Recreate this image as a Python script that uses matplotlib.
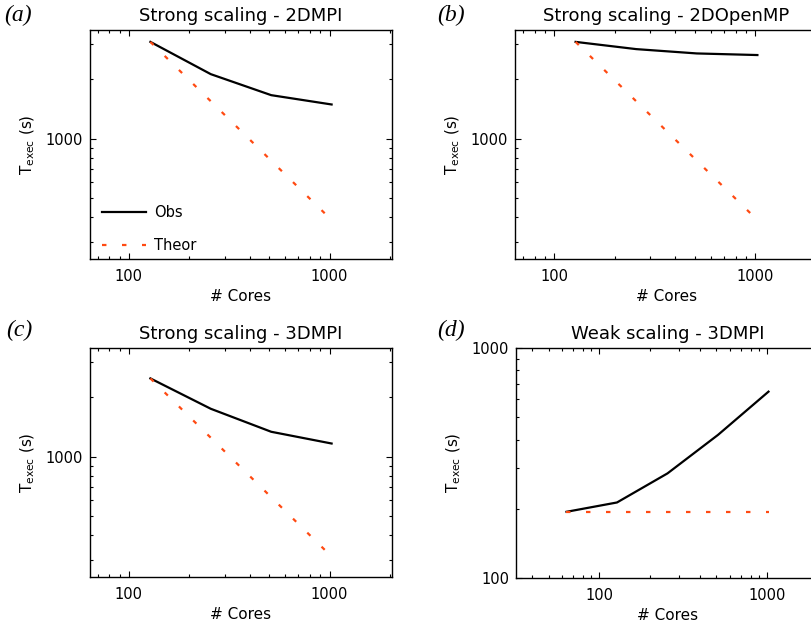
import matplotlib
matplotlib.use('Agg')
import matplotlib.pyplot as plt
import matplotlib.ticker as ticker

# strong scaling runs
cores_strong = [128, 256, 512, 1024]
obs_2dmpi = [3090, 2120, 1659, 1488]
theor_2dmpi = [3090, 1545, 772, 386]
obs_2domp = [3090, 2840, 2700, 2650]
theor_2domp = [3090, 1545, 772, 386]
obs_3dmpi = [2489, 1746, 1335, 1164]
theor_3dmpi = [2489, 1245, 622, 311]

# weak scaling run
cores_weak = [64, 128, 256, 512, 1024]
obs_weak = [194, 213, 285, 419, 646]
theor_weak = [194, 194, 194, 194, 194]

titles = ['Strong scaling - 2DMPI', 'Strong scaling - 2DOpenMP',
          'Strong scaling - 3DMPI', 'Weak scaling - 3DMPI']
letters = ['(a)', '(b)', '(c)', '(d)']

RED = '#ff4a12'
W, H = 812, 627


def px_axes(left, top, width, height):
    return [left / W, 1 - (top + height) / H, width / W, height / H]


def style_axes(ax, xlim, ylim):
    ax.set_xscale('log')
    ax.set_yscale('log')
    ax.set_xlim(*xlim)
    ax.set_ylim(*ylim)
    fmt = ticker.FuncFormatter(lambda v, p: f'{v:g}')
    ax.xaxis.set_major_formatter(fmt)
    ax.yaxis.set_major_formatter(fmt)
    ax.xaxis.set_minor_formatter(ticker.NullFormatter())
    ax.yaxis.set_minor_formatter(ticker.NullFormatter())
    ax.tick_params(which='both', direction='in', top=True, right=True,
                   labelsize=10.5, width=0.8, color='black')
    ax.tick_params(which='major', length=4.5)
    ax.tick_params(axis='x', which='major', pad=7)
    ax.tick_params(axis='y', which='major', pad=5)
    ax.tick_params(which='minor', length=2.3)
    for s in ax.spines.values():
        s.set_linewidth(1.0)
    ax.set_xlabel('# Cores', fontsize=11, labelpad=4)
    ax.set_ylabel(r'T$_{\mathregular{exec}}$ (s)', fontsize=11, labelpad=6)


fig = plt.figure(figsize=(W / 100, H / 100), dpi=100)

boxes = [px_axes(90, 30, 302, 229), px_axes(515, 30, 303, 229),
         px_axes(90, 348, 302, 229), px_axes(516, 348, 303, 230)]
axs = [fig.add_axes(b) for b in boxes]

strong = [(obs_2dmpi, theor_2dmpi), (obs_2domp, theor_2domp), (obs_3dmpi, theor_3dmpi)]
dash = (0, (2.0, 7.0))

for ax, (obs, theor) in zip(axs[:3], strong):
    ax.plot(cores_strong, obs, color='black', lw=1.6, label='Obs')
    ax.plot(cores_strong, theor, color=RED, lw=1.6, ls=dash, label='Theor')
    style_axes(ax, (64, 2048), (245, 3550))

ax = axs[3]
ax.plot(cores_weak, obs_weak, color='black', lw=1.6)
ax.plot(cores_weak, theor_weak, color=RED, lw=1.6, ls=dash)
style_axes(ax, (32, 2048), (100, 1000))

axs[0].legend(loc='lower left', frameon=False, fontsize=10.5, handlelength=3.0,
              handletextpad=0.6, labelspacing=1.25, borderpad=0,
              borderaxespad=0, bbox_to_anchor=(12 / 302, 6 / 229))

for ax, t, l in zip(axs, titles, letters):
    ax.set_title(t, fontsize=13, pad=6.5)

letter_pos = [(4, 5), (437, 5), (6, 320), (437, 320)]
for (x, y), l in zip(letter_pos, letters):
    fig.text(x / W, 1 - y / H, l, fontsize=17, family='Liberation Serif',
             style='italic', va='top', ha='left')

fig.savefig('out.png', dpi=100)
